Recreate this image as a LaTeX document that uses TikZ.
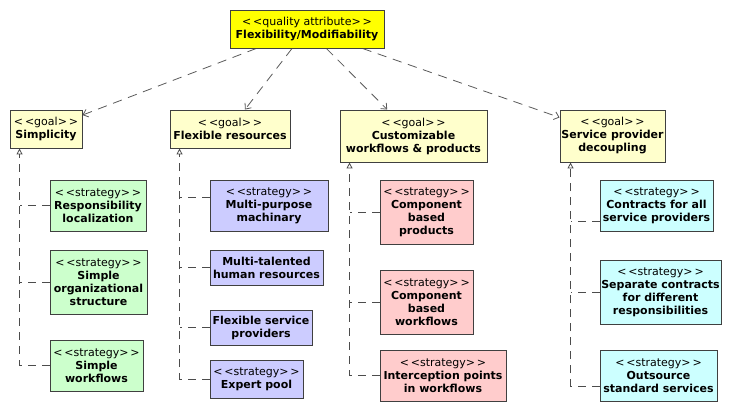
\documentclass[tikz,border=0pt]{standalone}
\usepackage{fontspec}
\setmainfont{DejaVu Sans}
\usepackage{tikz}
\usetikzlibrary{arrows.meta}
\definecolor{qattrfill}{RGB}{255,255,0}
\definecolor{goalfill}{RGB}{255,255,204}
\definecolor{greenfill}{RGB}{204,255,204}
\definecolor{bluefill}{RGB}{204,204,255}
\definecolor{redfill}{RGB}{255,204,204}
\definecolor{cyanfill}{RGB}{204,255,255}
\newcommand{\stereo}[1]{{\mdseries<\,<#1>\,>}\\}
\pgfdeclarelayer{nodelayer}
\pgfdeclarelayer{edgelayer}
\pgfsetlayers{edgelayer,nodelayer,main}
\tikzset{box/.style={draw=black!75, line width=0.7pt, align=center, inner sep=0pt,
font=\fontsize{8.25}{9.75}\selectfont\bfseries}}
\tikzset{qattr/.style={box, fill=qattrfill}}
\tikzset{goal/.style={box, fill=goalfill}}
\tikzset{strat/.style={box, fill=#1}}
\tikzset{dep/.style={draw=black!65, line width=0.6pt, dash pattern=on 7pt off 5pt,
-{Straight Barb[length=3.5pt,width=6pt]}}}
\tikzset{real/.style={draw=black!70, line width=0.6pt, dash pattern=on 6pt off 4.5pt,
-{Triangle[open,length=4.5pt,width=4.5pt]}}}
\tikzset{branch/.style={draw=black!70, line width=0.6pt, dash pattern=on 6pt off 4.5pt}}

\begin{document}
\begin{tikzpicture}[x=0.75pt, y=-0.75pt]
        \useasboundingbox (0,0) rectangle (730,411);
        \begin{pgfonlayer}{nodelayer}
            \node [style=qattr, minimum width=115.5pt, minimum height=28.5pt] (0) at (307,29) {\stereo{quality attribute}Flexibility/Modifiability};
            \node [style=goal, minimum width=54pt, minimum height=28.5pt] (1) at (46,129) {\stereo{goal}Simplicity};
            \node [style=goal, minimum width=90pt, minimum height=28.5pt] (2) at (230,129) {\stereo{goal}Flexible resources};
            \node [style=goal, minimum width=110.25pt, minimum height=39pt] (3) at (413.5,136) {\stereo{goal}Customizable\\workflows \& products};
            \node [style=goal, minimum width=78.75pt, minimum height=39pt] (4) at (612.5,136) {\stereo{goal}Service provider\\decoupling};
            % simplicity
            \node [style={strat=greenfill}, minimum width=72pt, minimum height=38.25pt] (5) at (98,205.5) {\stereo{strategy}Responsibility\\localization};
            \node [style={strat=greenfill}, minimum width=72.75pt, minimum height=48pt] (6) at (98.5,282) {\stereo{strategy}Simple\\organizational\\structure};
            \node [style={strat=greenfill}, minimum width=69.75pt, minimum height=38.25pt] (7) at (96.5,365.5) {\stereo{strategy}Simple\\workflows};
            % flexible resources
            \node [style={strat=bluefill}, minimum width=88.5pt, minimum height=38.25pt] (8) at (269,205.5) {\stereo{strategy}Multi-purpose\\machinary};
            \node [style={strat=bluefill}, minimum width=84.75pt, minimum height=26.25pt] (9) at (266.5,267.5) {Multi-talented\\human resources};
            \node [style={strat=bluefill}, minimum width=76.5pt, minimum height=26.25pt] (10) at (261,327.5) {Flexible service\\providers};
            \node [style={strat=bluefill}, minimum width=69.75pt, minimum height=28.5pt] (11) at (256.5,379) {\stereo{strategy}Expert pool};
            % customizable
            \node [style={strat=redfill}, minimum width=69.75pt, minimum height=48pt] (12) at (426.5,212) {\stereo{strategy}Component\\based\\products};
            \node [style={strat=redfill}, minimum width=69.75pt, minimum height=48pt] (13) at (426.5,302) {\stereo{strategy}Component\\based\\workflows};
            \node [style={strat=redfill}, minimum width=94.5pt, minimum height=38.25pt] (14) at (443,375.5) {\stereo{strategy}Interception points\\in workflows};
            % decoupling
            \node [style={strat=cyanfill}, minimum width=84.75pt, minimum height=38.25pt] (15) at (656.5,205.5) {\stereo{strategy}Contracts for all\\service providers};
            \node [style={strat=cyanfill}, minimum width=90.75pt, minimum height=48pt] (16) at (660.5,292) {\stereo{strategy}Separate contracts\\for different\\responsibilities};
            \node [style={strat=cyanfill}, minimum width=87.75pt, minimum height=38.25pt] (17) at (658.5,375.5) {\stereo{strategy}Outsource\\standard services};
            \coordinate (18) at ([xshift=7.5pt]1.south west);
            \coordinate (19) at ([xshift=7.5pt]2.south west);
            \coordinate (20) at ([xshift=7.5pt]3.south west);
            \coordinate (21) at ([xshift=8.25pt]4.south west);
        \end{pgfonlayer}
        \begin{pgfonlayer}{edgelayer}
            \draw [style=dep] (0) to (1);
            \draw [style=dep] (0) to (2);
            \draw [style=dep] (0) to (3);
            \draw [style=dep] (0) to (4);
            \draw [style=real] (7.west) -| (18);
            \draw [style=branch] (5.west) -- (5.west -| 18);
            \draw [style=branch] (6.west) -- (6.west -| 18);
            \draw [style=real] (11.west) -| (19);
            \draw [style=branch] ([yshift=6.4pt]8.west) -- ([yshift=6.4pt]8.west -| 19);
            \draw [style=branch] (9.west) -- (9.west -| 19);
            \draw [style=branch] (10.west) -- (10.west -| 19);
            \draw [style=real] (14.west) -| (20);
            \draw [style=branch] (12.west) -- (12.west -| 20);
            \draw [style=branch] (13.west) -- (13.west -| 20);
            \draw [style=real] ([yshift=-7.9pt]17.west) -| (21);
            \draw [style=branch] ([yshift=-11.6pt]15.west) -- ([yshift=-11.6pt]15.west -| 21);
            \draw [style=branch] (16.west) -- (16.west -| 21);
        \end{pgfonlayer}
    \end{tikzpicture}
\end{document}
